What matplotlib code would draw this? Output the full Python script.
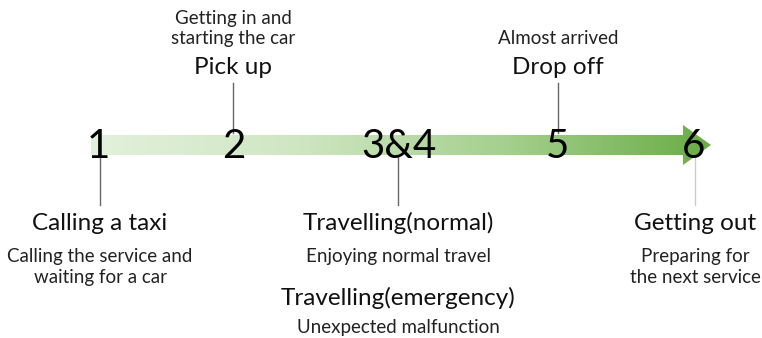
import matplotlib
matplotlib.use("Agg")
import matplotlib.pyplot as plt
import numpy as np
from matplotlib.colors import LinearSegmentedColormap
from matplotlib.patches import Polygon

plt.rcParams['font.family'] = ['Lato', 'DejaVu Sans']

# Stages along the journey
step_labels = ["1", "2", "3&4", "5", "6"]
step_x = [98, 234, 399, 557, 694]
line_x = [100, 233, 398, 558, 695]
side = ["below", "above", "below", "above", "below"]

titles = ["Calling a taxi", "Pick up", "Travelling(normal)", "Drop off", "Getting out"]
descriptions = ["Calling the service and\nwaiting for a car",
                "Getting in and\nstarting the car",
                "Enjoying normal travel",
                "Almost arrived",
                "Preparing for\nthe next service"]

extra_title = "Travelling(emergency)"
extra_desc = "Unexpected malfunction"

fig = plt.figure(figsize=(7.62, 3.38), dpi=100)
ax = fig.add_axes([0, 0, 1, 1])
ax.set_xlim(0, 762)
ax.set_ylim(338, 0)
ax.axis("off")

# Gradient arrow
cmap = LinearSegmentedColormap.from_list("grn", ["#e3f1dc", "#cfe6c3", "#a5d08e", "#6aac46"])
grad = np.linspace(0, 1, 256).reshape(1, -1)
im = ax.imshow(grad, cmap=cmap, extent=[91, 711, 165, 125], aspect="auto", zorder=1)
arrow = Polygon([[91, 135], [683, 135], [683, 125], [711, 145], [683, 165],
                 [683, 155], [91, 155]], closed=True, facecolor="none", edgecolor="none")
ax.add_patch(arrow)
im.set_clip_path(arrow)

# Step numbers
for lab, x in zip(step_labels, step_x):
    ax.text(x, 147, lab, ha="center", va="center", fontsize=29, color="black", zorder=3)

title_fs = 17.5
desc_fs = 13.5

# Connector lines and labels
for i in range(len(step_labels)):
    x = line_x[i]
    col = "#cccccc" if i == 4 else "#666666"
    if side[i] == "below":
        ax.plot([x, x], [157, 205], color=col, lw=1, zorder=2)
        ax.text(x, 223, titles[i], ha="center", va="center", fontsize=title_fs, color="#111111")
        ax.text(x, 248, descriptions[i], ha="center", va="top", fontsize=desc_fs,
                color="#222222", linespacing=1.28)
    else:
        ax.plot([x, x], [83, 133], color=col, lw=1, zorder=2)
        ax.text(x, 67, titles[i], ha="center", va="center", fontsize=title_fs, color="#111111")
        ax.text(x, 47, descriptions[i], ha="center", va="bottom", fontsize=desc_fs,
                color="#222222", linespacing=1.2)

ax.text(line_x[2], 298, extra_title, ha="center", va="center", fontsize=title_fs, color="#111111")
ax.text(line_x[2], 327, extra_desc, ha="center", va="center", fontsize=desc_fs, color="#222222")

fig.savefig("out.png", dpi=100, facecolor="white")
